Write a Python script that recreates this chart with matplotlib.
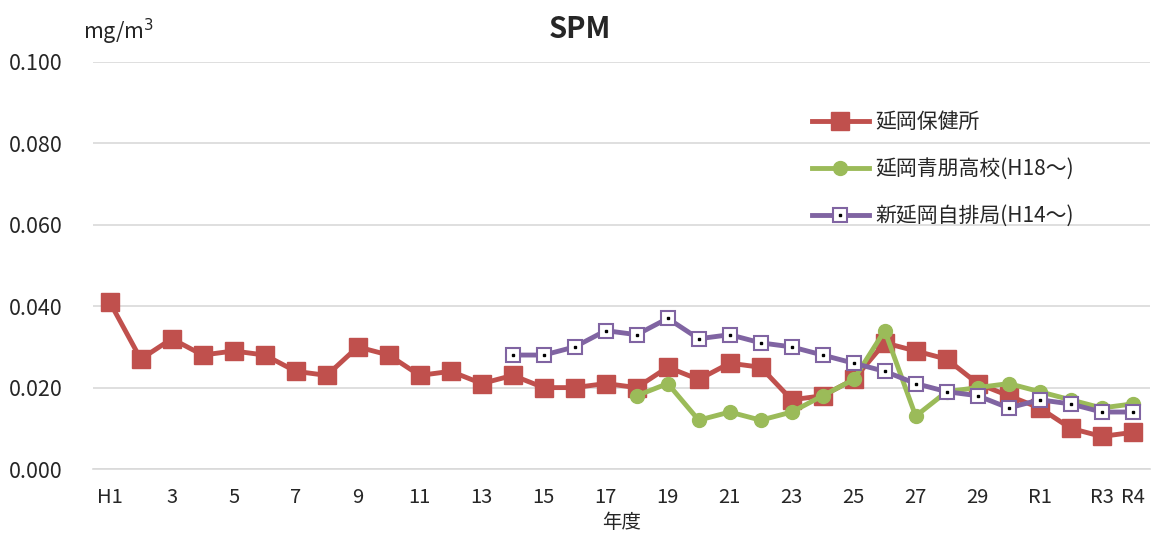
import matplotlib
matplotlib.use("Agg")
import matplotlib.pyplot as plt
from matplotlib.legend_handler import HandlerTuple

plt.rcParams['font.family'] = ['Noto Sans CJK JP', 'DejaVu Sans']

years = ["H1", "H2", "3", "H4", "5", "H6", "7", "H8", "9", "H10", "11", "H12",
         "13", "H14", "15", "H16", "17", "H18", "19", "H20", "21", "H22", "23",
         "H24", "25", "H26", "27", "H28", "29", "H30", "R1", "R2", "R3", "R4"]
tick_labels = ["H1", "", "3", "", "5", "", "7", "", "9", "", "11", "", "13", "",
               "15", "", "17", "", "19", "", "21", "", "23", "", "25", "", "27",
               "", "29", "", "R1", "", "R3", "R4"]

# 延岡保健所 (H1 - R4)
hokenjo = [0.041, 0.027, 0.032, 0.028, 0.029, 0.028, 0.024, 0.023, 0.030, 0.028,
           0.023, 0.024, 0.021, 0.023, 0.020, 0.020, 0.021, 0.020, 0.025, 0.022,
           0.026, 0.025, 0.017, 0.018, 0.022, 0.031, 0.029, 0.027, 0.021, 0.018,
           0.015, 0.010, 0.008, 0.009]
# 延岡青朋高校 (H18 - R4)
seiho = [0.018, 0.021, 0.012, 0.014, 0.012, 0.014, 0.018, 0.022, 0.034, 0.013,
         0.019, 0.020, 0.021, 0.019, 0.017, 0.015, 0.016]
# 新延岡自排局 (H14 - R4)
jihai = [0.028, 0.028, 0.030, 0.034, 0.033, 0.037, 0.032, 0.033, 0.031, 0.030,
         0.028, 0.026, 0.024, 0.021, 0.019, 0.018, 0.015, 0.017, 0.016, 0.014,
         0.014]

RED = "#C0504D"
GREEN = "#9BBB59"
PURPLE = "#8064A2"

x_all = list(range(len(years)))
x_seiho = x_all[len(years) - len(seiho):]
x_jihai = x_all[len(years) - len(jihai):]

fig = plt.figure(figsize=(11.59, 5.34), dpi=100)
ax = fig.add_axes([0.080, 0.1217, 0.912, 0.7622])

l1, = ax.plot(x_all, hokenjo, color=RED, lw=3.5, marker="s", ms=13,
              label="延岡保健所", zorder=3)
l2, = ax.plot(x_seiho, seiho, color=GREEN, lw=3.5, marker="o", ms=10,
              label="延岡青朋高校(H18～)", zorder=4)
l3, = ax.plot(x_jihai, jihai, color=PURPLE, lw=3.5, marker="s", ms=10,
              mfc="white", mec=PURPLE, mew=1.5, label="新延岡自排局(H14～)", zorder=5)
dots, = ax.plot(x_jihai, jihai, ls="none", marker="s", ms=1.5, color="black", zorder=6)

ax.set_xlim(-0.55, len(years) - 0.45)
ax.set_ylim(0, 0.1)
ax.set_yticks([0, 0.02, 0.04, 0.06, 0.08, 0.1])
ax.set_yticklabels(["0.000", "0.020", "0.040", "0.060", "0.080", "0.100"])
ax.set_xticks(x_all)
ax.set_xticklabels(tick_labels)
ax.tick_params(axis="both", length=0, colors="#262626")
ax.tick_params(axis="y", pad=22, labelsize=15.5)
ax.tick_params(axis="x", pad=13, labelsize=14.5)

ax.grid(axis="y", color="#D9D9D9", lw=1.2)
ax.set_axisbelow(True)
for s in ["top", "right", "left"]:
    ax.spines[s].set_visible(False)
ax.spines["bottom"].set_color("#D9D9D9")
ax.spines["bottom"].set_linewidth(1.2)

fig.text(0.5, 0.945, "SPM", ha="center", va="center", fontsize=21,
         fontweight="bold", color="#262626")
fig.text(0.072, 0.94, "mg/m$^3$", ha="left", va="center", fontsize=15.5, color="#262626")
ax.set_xlabel("年度", fontsize=14, color="#262626")
ax.xaxis.set_label_coords(0.5, -0.105)

ax.legend([l1, l2, (l3, dots)], [l1.get_label(), l2.get_label(), l3.get_label()],
          handler_map={tuple: HandlerTuple(ndivide=1)},
          loc="upper left", bbox_to_anchor=(0.663, 0.925), frameon=False,
          fontsize=15, handlelength=2.7, labelspacing=1.2, handletextpad=0.35,
          labelcolor="#262626")

fig.savefig("out.png", dpi=100)
